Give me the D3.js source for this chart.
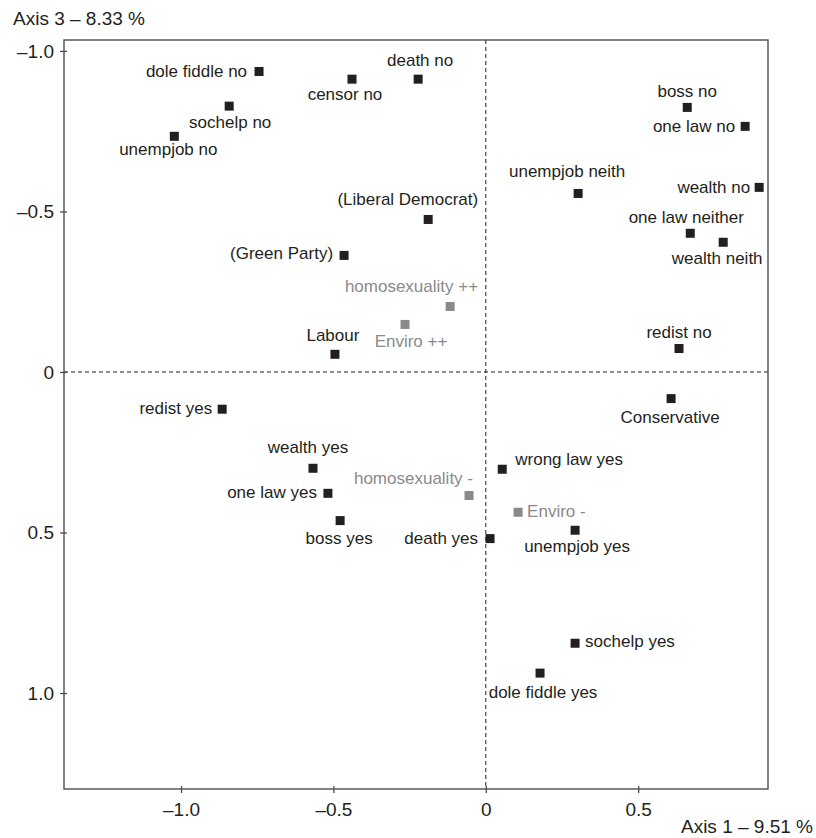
<!DOCTYPE html>
<html>
<head>
<meta charset="utf-8">
<script src="https://cdn.jsdelivr.net/npm/d3@7"></script>
<style>
  body { margin: 0; background: #fff; }
  text { font-family: "Liberation Sans", Arial, Helvetica, sans-serif; }
</style>
</head>
<body>
<div id="chart"></div>
<script>
// categories (modalities) and their coordinates on axis 1 / axis 3
var names = ["dole fiddle no", "censor no", "death no", "sochelp no", "unempjob no",
    "boss no", "one law no", "unempjob neith", "wealth no", "one law neither",
    "wealth neith", "(Liberal Democrat)", "(Green Party)", "homosexuality ++", "Enviro ++",
    "Labour", "redist no", "Conservative", "redist yes", "wealth yes",
    "one law yes", "homosexuality -", "boss yes", "death yes", "wrong law yes",
    "Enviro -", "unempjob yes", "sochelp yes", "dole fiddle yes"];
var axis1 = [-0.744, -0.439, -0.222, -0.842, -1.022,
    0.661, 0.851, 0.303, 0.897, 0.671,
    0.779, -0.189, -0.465, -0.117, -0.265,
    -0.495, 0.634, 0.608, -0.865, -0.567,
    -0.518, -0.055, -0.478, 0.014, 0.054,
    0.106, 0.293, 0.293, 0.178];
var axis3 = [-0.936, -0.912, -0.912, -0.828, -0.734,
    -0.824, -0.765, -0.556, -0.575, -0.432,
    -0.404, -0.475, -0.363, -0.204, -0.148,
    -0.055, -0.073, 0.083, 0.116, 0.300,
    0.378, 0.385, 0.463, 0.519, 0.303,
    0.437, 0.493, 0.845, 0.938];
// supplementary (grey) modalities
var supplementary = ["homosexuality ++", "Enviro ++", "homosexuality -", "Enviro -"];

var xTicks = [-1, -0.5, 0, 0.5];
var yTicks = [-1, -0.5, 0, 0.5, 1];
var xTitle = "Axis 1 \u2013 9.51 %";
var yTitle = "Axis 3 \u2013 8.33 %";

// where each label sits next to its square: [anchor, dx, dy]
var labelPlace = [["end", -12, 6], ["middle", -7, 21], ["middle", 2, -13], ["middle", 1, 22], ["middle", -6, 19],
    ["middle", 0, -10], ["end", -10, 6], ["middle", -11, -16], ["end", -9, 6], ["middle", -4, -10],
    ["middle", -6, 22], ["end", 50, -14], ["end", -11, 4], ["end", 28, -14], ["middle", 6, 23],
    ["middle", -2, -13], ["middle", 0, -11], ["middle", -1, 24], ["end", -10, 5], ["middle", -5, -15],
    ["end", -11, 5], ["end", 4, -12], ["middle", -1, 23], ["end", -12, 5], ["start", 13, -4],
    ["start", 9, 5], ["middle", 2, 22], ["start", 10, 4], ["middle", 3, 25]];

var width = 816;
var height = 838;
var mLeft = 64, mRight = 768, mTop = 40, mBottom = 789;
var dark = "#231f20";
var grey = "#8a8a8a";

var points = names.map(function(n, i) {
    return { name: n, x: axis1[i], y: axis3[i], place: labelPlace[i],
             sup: supplementary.indexOf(n) >= 0 };
});

var svg = d3.select("#chart")
    .append("svg")
    .attr("width", width)
    .attr("height", height);

var scaleX = d3.scaleLinear()
    .domain([-1.384, 0.926])
    .range([mLeft, mRight]);

var scaleY = d3.scaleLinear()
    .domain([-1.034, 1.299])
    .range([mTop, mBottom]);

var fmt = function(d) {
    if (d === 0) return "0";
    return (d < 0 ? "\u2013" : "") + d3.format(".1f")(Math.abs(d));
};

// zero lines
svg.append("line")
    .attr("x1", scaleX(0)).attr("x2", scaleX(0))
    .attr("y1", mTop).attr("y2", mBottom)
    .attr("stroke", dark).attr("stroke-width", 1)
    .attr("stroke-dasharray", "4,3");
svg.append("line")
    .attr("x1", mLeft).attr("x2", mRight)
    .attr("y1", scaleY(0)).attr("y2", scaleY(0))
    .attr("stroke", dark).attr("stroke-width", 1)
    .attr("stroke-dasharray", "4,3");

// frame
svg.append("rect")
    .attr("x", mLeft).attr("y", mTop)
    .attr("width", mRight - mLeft).attr("height", mBottom - mTop)
    .attr("fill", "none")
    .attr("stroke", "#4d4d4d")
    .attr("stroke-width", 1.4);

var xaxis = d3.axisBottom(scaleX).tickValues(xTicks).tickFormat(fmt)
    .tickSizeInner(4).tickSizeOuter(0).tickPadding(10);
var yaxis = d3.axisLeft(scaleY).tickValues(yTicks).tickFormat(fmt)
    .tickSizeInner(4).tickSizeOuter(0).tickPadding(6);

var gx = svg.append("g").attr("transform", "translate(0," + mBottom + ")").call(xaxis);
var gy = svg.append("g").attr("transform", "translate(" + mLeft + ",0)").call(yaxis);

[gx, gy].forEach(function(g) {
    g.select(".domain").remove();
    g.selectAll(".tick line").attr("stroke", "#4d4d4d").attr("stroke-width", 1.3);
    g.selectAll(".tick text")
        .attr("fill", dark)
        .style("font-size", "19px")
        .style("font-family", "'Liberation Sans', Arial, sans-serif");
});
gx.selectAll(".tick line").attr("y1", -3);
gy.selectAll(".tick line").attr("x1", 3);

// squares
var size = 9;
svg.append("g")
    .selectAll("rect")
    .data(points)
    .enter()
    .append("rect")
    .attr("x", (d) => scaleX(d.x) - size / 2)
    .attr("y", (d) => scaleY(d.y) - size / 2)
    .attr("width", size)
    .attr("height", size)
    .attr("fill", (d) => d.sup ? grey : dark);

// labels
svg.append("g")
    .selectAll("text")
    .data(points)
    .enter()
    .append("text")
    .attr("x", (d) => scaleX(d.x) + d.place[1])
    .attr("y", (d) => scaleY(d.y) + d.place[2])
    .attr("text-anchor", (d) => d.place[0])
    .attr("fill", (d) => d.sup ? grey : dark)
    .style("font-size", "17px")
    .text((d) => d.name);

// axis titles
svg.append("text")
    .attr("x", 13)
    .attr("y", 25)
    .attr("fill", dark)
    .style("font-size", "19px")
    .text(yTitle);

svg.append("text")
    .attr("x", 813)
    .attr("y", 833)
    .attr("text-anchor", "end")
    .attr("fill", dark)
    .style("font-size", "19px")
    .text(xTitle);
</script>
</body>
</html>
